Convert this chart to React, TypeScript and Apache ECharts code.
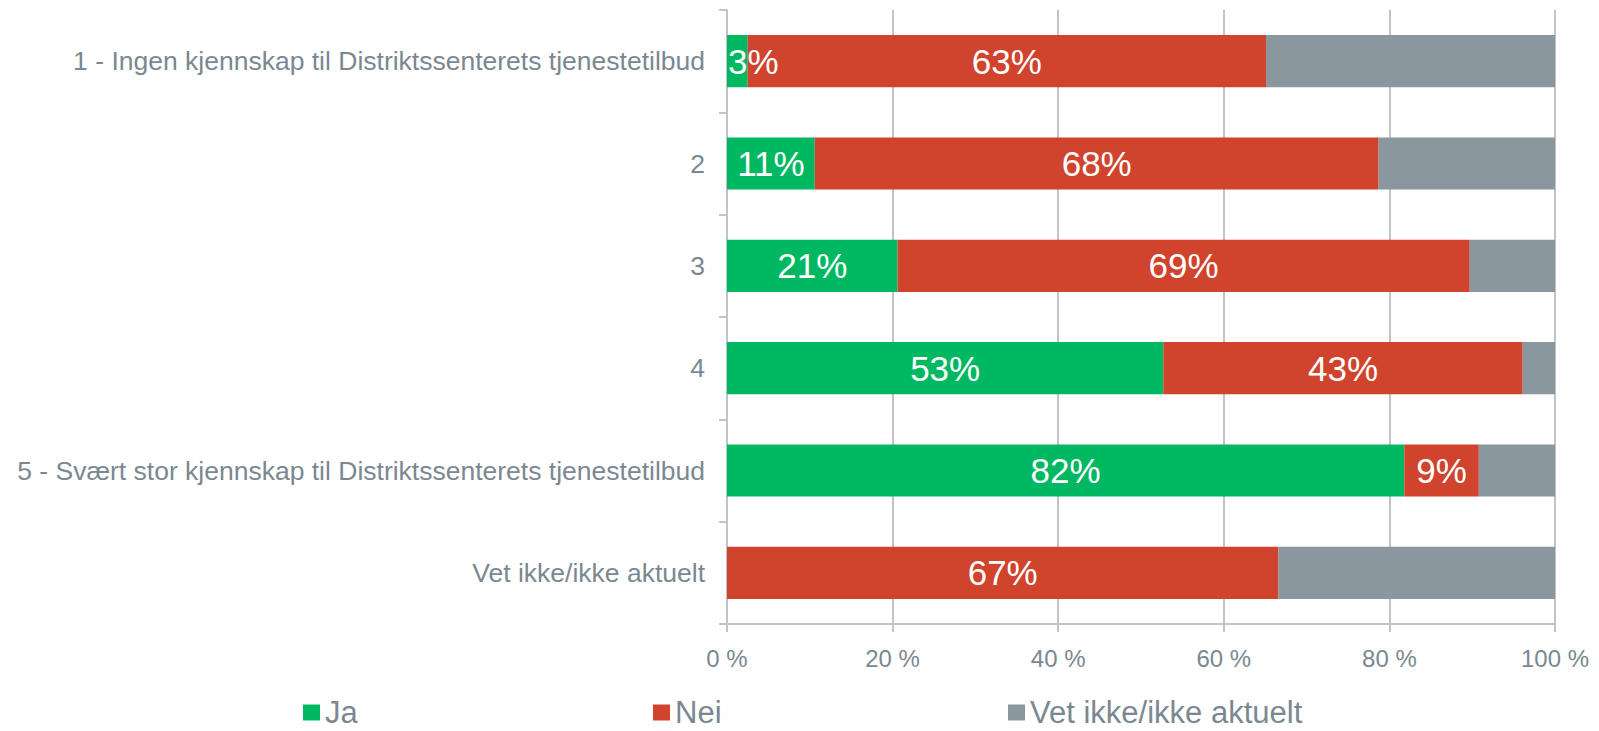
import React, { useEffect, useRef } from "react";
import * as echarts from "echarts";

const categories = [
  "1 - Ingen kjennskap til Distriktssenterets tjenestetilbud",
  "2",
  "3",
  "4",
  "5 - Svært stor kjennskap til Distriktssenterets tjenestetilbud",
  "Vet ikke/ikke aktuelt",
];
const seriesNames = ["Ja", "Nei", "Vet ikke/ikke aktuelt"];
const jaValues = [2.5, 10.6, 20.6, 52.7, 81.8, 0];
const neiValues = [62.6, 68.1, 69.1, 43.4, 9.0, 66.6];
const vetValues = [34.9, 21.3, 10.3, 3.9, 9.2, 33.4];
const xTicks = [0, 20, 40, 60, 80, 100];

const colors = ["#00b862", "#d0432c", "#8a979e"];
const textGray = "#7b8891";
const lineGray = "#c0c4c8";
const FONT = "'Liberation Sans', Arial, sans-serif";

export default function App() {
  const ref = useRef<HTMLDivElement>(null);
  useEffect(() => {
    if (!ref.current) return;
    const chart = echarts.init(ref.current, undefined, { renderer: "svg" });
    const all = [jaValues, neiValues, vetValues];
    const series = all.map((vals, si) => ({
      name: seriesNames[si],
      type: "bar",
      stack: "total",
      barCategoryGap: "49%",
      itemStyle: { color: colors[si] },
      data: vals.map((v) => {
        const item: any = { value: v };
        if (si === 0 && v > 0 && v < 5) {
          item.label = { position: "insideLeft", offset: [-4, 0] };
        }
        return item;
      }),
      label: {
        show: si < 2,
        position: "inside",
        color: "#ffffff",
        fontSize: 35,
        fontFamily: FONT,
        formatter: (p: any) => (p.value > 0 ? Math.round(p.value) + "%" : ""),
      },
    }));
    const legendLefts = [303, 653, 1008];
    chart.setOption({
      animation: false,
      textStyle: { fontFamily: FONT },
      grid: { left: 727, right: 44, top: 10, bottom: 107, containLabel: false },
      legend: seriesNames.map((n, i) => ({
        data: [n],
        left: legendLefts[i],
        top: 697,
        padding: 0,
        itemWidth: 17,
        itemHeight: 16,
        itemGap: 0,
        icon: "rect",
        textStyle: { color: textGray, fontSize: 31, lineHeight: 31, fontFamily: FONT },
        selectedMode: false,
      })),
      xAxis: {
        type: "value",
        min: 0,
        max: 100,
        interval: 20,
        axisLine: { show: true, lineStyle: { color: lineGray, width: 2 } },
        axisTick: { show: true, length: 8, lineStyle: { color: lineGray, width: 2 } },
        splitLine: { show: true, lineStyle: { color: lineGray, width: 2 } },
        axisLabel: {
          color: textGray,
          fontSize: 24,
          fontFamily: FONT,
          margin: 22,
          formatter: (v: number) => (xTicks.includes(v) ? v + " %" : ""),
        },
      },
      yAxis: {
        type: "category",
        inverse: true,
        data: categories,
        axisLine: { show: true, lineStyle: { color: lineGray, width: 2 } },
        axisTick: { show: true, length: 8, lineStyle: { color: lineGray, width: 2 } },
        axisLabel: { color: textGray, fontSize: 26.5, fontFamily: FONT, margin: 22 },
      },
      series,
    });
    return () => chart.dispose();
  }, []);
  return <div ref={ref} style={{ width: 1599, height: 731, position: "absolute", left: 0, top: 0, background: "#fff" }} />;
}
